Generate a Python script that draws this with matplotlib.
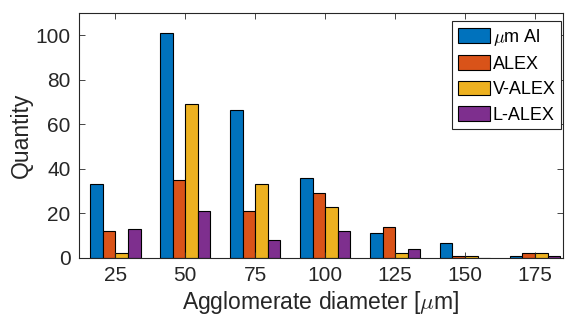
import numpy as np
import matplotlib
matplotlib.use("Agg")
import matplotlib.pyplot as plt

plt.rcParams["font.family"] = ["Liberation Sans", "DejaVu Sans"]
plt.rcParams["mathtext.fontset"] = "cm"

diam = [25, 50, 75, 100, 125, 150, 175]
series = [r"$\mu$m Al", "ALEX", "V-ALEX", "L-ALEX"]
um_al = [33, 101, 66.5, 36, 11, 6.5, 1]
alex = [12, 35, 21, 29, 14, 1, 2]
v_alex = [2, 69, 33, 23, 2, 1, 2]
l_alex = [13, 21, 8, 12, 4, 0, 1]
colors = ["#0072BD", "#D95319", "#EDB120", "#7E2F8E"]

TXT = "#262626"
fig = plt.figure(figsize=(5.66, 3.2), dpi=100)
ax = fig.add_axes([0.1396, 0.194, 0.855, 0.765])

w = 4.5
x = np.array(diam, dtype=float)
for i, (vals, c, lab) in enumerate(zip([um_al, alex, v_alex, l_alex], colors, series)):
    ax.bar(x + (i - 1.5) * w, vals, width=w, color=c, edgecolor="black",
           linewidth=0.8, label=lab)

ax.set_xlim(12, 185)
ax.set_ylim(0, 110)
ax.set_xticks(diam)
ax.set_yticks([0, 20, 40, 60, 80, 100])
ax.tick_params(direction="in", top=True, right=True, labelsize=15,
               colors=TXT, length=4, width=0.6, pad=6)
for s in ax.spines.values():
    s.set_color(TXT)
    s.set_linewidth(0.8)
ax.set_xlabel(r"Agglomerate diameter [$\mu$m]", fontsize=16.5, color=TXT, labelpad=3)
ax.set_ylabel("Quantity", fontsize=16.5, color=TXT, labelpad=2)

leg = ax.legend(loc="upper right", bbox_to_anchor=(0.996, 0.967), borderaxespad=0,
                fontsize=13, handlelength=1.8, handleheight=0.9,
                handletextpad=0.15, borderpad=0.3, labelspacing=0.42,
                fancybox=False, framealpha=1)
leg.get_frame().set_edgecolor(TXT)
leg.get_frame().set_linewidth(0.8)

fig.savefig("out.png", dpi=100)
